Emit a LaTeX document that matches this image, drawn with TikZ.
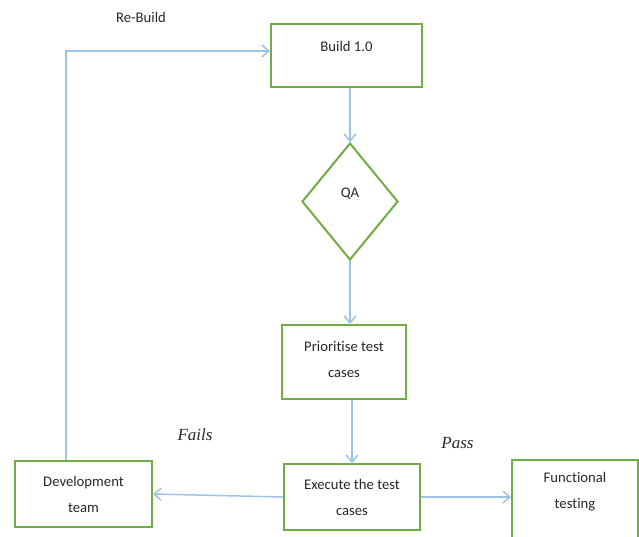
\documentclass[tikz,border=0pt]{standalone}
\usepackage{fontspec}
\setmainfont{Carlito}[Ligatures=NoCommon]
\newfontfamily\notefont{Liberation Serif}
\usetikzlibrary{arrows.meta,shapes.geometric}
\definecolor{qagreen}{RGB}{112,173,71}
\definecolor{qablue}{RGB}{157,195,230}
\definecolor{qatext}{RGB}{40,40,40}
\tikzset{
    stage/.style={
        draw=qagreen,line width=2pt,fill=white,inner sep=0pt
    },
    decision/.style={
        stage,diamond
    },
    stagetext/.style={
        align=center,text=qatext,inner sep=0pt,
        font=\fontsize{14.7}{26}\selectfont
    },
    note/.style={
        text=qatext,inner sep=0pt,font=\notefont\itshape\fontsize{17}{20}\selectfont
    },
    flow/.style={
        -{Straight Barb[length=7pt,width=12pt]},line width=1.5pt,draw=qablue
    }
}

\begin{document}
\begin{tikzpicture}[x=1pt,y=-1pt]
\clip (0,0) rectangle (639,536);
\fill[white] (0,0) rectangle (639,536);

% boxes of the flow
\node[stage,minimum width=151,minimum height=63,
  label={[stagetext,yshift=9.5]center:Build 1.0}] (build) at (346.5,55.5) {};
\node[decision,minimum width=96,minimum height=117,
  label={[stagetext,yshift=8]center:QA}] (qa) at (350,201.5) {};
\node[stage,minimum width=124,minimum height=74,
  label={[stagetext,yshift=3]center:Prioritise test\\cases}] (prio) at (344,362) {};
\node[stage,minimum width=136,minimum height=66,
  label={[stagetext]center:Execute the test\\cases}] (exec) at (352,497) {};
\node[stage,minimum width=137,minimum height=66,
  label={[stagetext]center:Development\\team}] (dev) at (83.5,494) {};
\node[stage,minimum width=126,minimum height=80,
  label={[stagetext,yshift=8.5]center:Functional\\testing}] (func) at (575,500) {};

% labels on the connectors
\node[stagetext] (rebuild) at (141,17) {Re-Build};
\node[note] (fails) at (195,435) {Fails};
\node[note] (pass) at (457.5,443) {Pass};

% connectors
\draw[flow] (qa.north |- build.south) -- (qa.north);
\draw[flow] (qa.south) -- (qa.south |- prio.north);
\draw[flow] (exec.north |- prio.south) -- (exec.north);
\draw[flow] (exec.west) -- (dev.east);
\draw[flow] (exec.east) -- (exec.east -| func.west);
\draw[flow] ([xshift=-17.5pt]dev.north) |- ([yshift=4.5pt]build.west);

\end{tikzpicture}
\end{document}
